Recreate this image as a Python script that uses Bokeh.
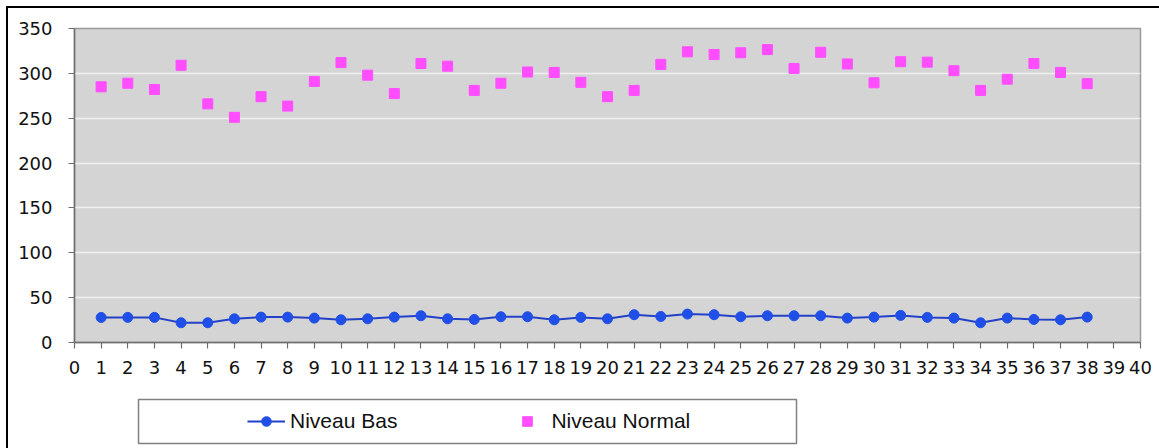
from bokeh.plotting import figure
from bokeh.layouts import column
from bokeh.models import Range1d, Legend, LegendItem, FixedTicker, BoxAnnotation
from bokeh.embed import file_html
from bokeh.resources import INLINE

# ---- data ----
mesures = list(range(1, 39))
niveau_bas = [27.9, 28, 28, 22, 22, 26.4, 28.3, 28.3, 27.2, 25.3,
              26.4, 28.3, 29.8, 26.4, 25.7, 28.7, 28.7, 25.3, 28, 26.4,
              31, 29, 31.7, 31, 28.7, 29.8, 29.8, 29.8, 27.2, 28.3,
              30.2, 28, 27.2, 22, 27.2, 25.7, 25.3, 28.3]
niveau_normal = [285, 289, 282, 309, 266, 251, 274, 263.5, 291, 312,
                 298, 277.5, 311, 308, 281, 289, 301.5, 301, 290, 274,
                 281, 310, 324, 321, 323, 326.5, 305.5, 323.5, 310.5, 289.5,
                 313, 312.5, 303, 281, 293.5, 311, 301, 288.5]
x_ticks = list(range(0, 41))
y_ticks = [0, 50, 100, 150, 200, 250, 300, 350]
series_names = ["Niveau Bas", "Niveau Normal"]

BLUE = "#1f4fe6"
BLUE_LINE = "#2340c8"
PINK = "#ff4dff"

# ---- main chart ----
p = figure(width=1151, height=385, output_backend="svg", toolbar_location=None,
           x_range=Range1d(0, 40), y_range=Range1d(0, 350),
           min_border_left=66, min_border_right=19, min_border_top=20, min_border_bottom=51)

p.background_fill_color = "#d4d4d4"
p.border_fill_color = "white"
p.outline_line_color = "#9a9a9a"
p.outline_line_width = 1.5

p.xgrid.grid_line_color = None
p.ygrid.grid_line_color = "#f0f0f0"
p.ygrid.grid_line_width = 1.5
p.ygrid.ticker = FixedTicker(ticks=y_ticks)

for ax in (p.xaxis[0], p.yaxis[0]):
    ax.axis_line_color = "#6e6e6e"
    ax.axis_line_width = 1.5
    ax.major_tick_line_color = "#6e6e6e"
    ax.major_tick_line_width = 1.2
    ax.major_tick_out = 6
    ax.major_tick_in = 0
    ax.minor_tick_line_color = None
    ax.major_label_text_font = "DejaVu Sans"
    ax.major_label_text_font_size = "18px"
    ax.major_label_text_color = "#111111"

p.xaxis.ticker = FixedTicker(ticks=x_ticks)
p.yaxis.ticker = FixedTicker(ticks=y_ticks)
p.xaxis.major_label_standoff = 12
p.yaxis.major_label_standoff = 16

p.line(mesures, niveau_bas, line_color=BLUE_LINE, line_width=2)
p.scatter(mesures, niveau_bas, marker="circle", size=10, fill_color=BLUE, line_color=BLUE)
p.scatter(mesures, niveau_normal, marker="square", size=10, fill_color=PINK, line_color=PINK)

# ---- legend strip (its own figure; the series are drawn outside its visible range) ----
lf = figure(width=1151, height=56, output_backend="svg", toolbar_location=None,
            x_range=Range1d(0, 40), y_range=Range1d(-1000, -999),
            x_axis_location=None, y_axis_location=None,
            min_border_left=66, min_border_right=19, min_border_top=4, min_border_bottom=4)
lf.grid.visible = False
lf.background_fill_color = "white"
lf.border_fill_color = "white"
lf.outline_line_color = None
lb_line = lf.line(mesures, niveau_bas, line_color=BLUE_LINE, line_width=2)
lb_circ = lf.scatter(mesures, niveau_bas, marker="circle", size=10, fill_color=BLUE, line_color=BLUE)
ln_sq = lf.scatter(mesures, niveau_normal, marker="square", size=10, fill_color=PINK, line_color=PINK)

# legend frame
lf.add_layout(BoxAnnotation(left=130, right=788, top=6, bottom=50,
                            left_units="canvas", right_units="canvas",
                            top_units="canvas", bottom_units="canvas",
                            fill_color="white", fill_alpha=1.0,
                            line_color="#808080", line_alpha=1.0, line_width=1.5))

legend = Legend(items=[LegendItem(label=series_names[0], renderers=[lb_line, lb_circ]),
                       LegendItem(label=series_names[1], renderers=[ln_sq])],
                orientation="horizontal", location=(173, 12), margin=0,
                padding=0, spacing=111, glyph_width=38, glyph_height=24,
                label_height=24, label_standoff=5,
                label_text_font="Liberation Sans", label_text_font_size="21px",
                label_text_color="#111111",
                border_line_alpha=0, background_fill_alpha=0)
lf.add_layout(legend, "center")

layout = column(p, lf, spacing=0, styles={"margin-left": "6px", "margin-top": "6px",
                                          "border-left": "2px solid black",
                                          "border-top": "2px solid black"})

open("out.html", "w").write(file_html(layout, INLINE))
